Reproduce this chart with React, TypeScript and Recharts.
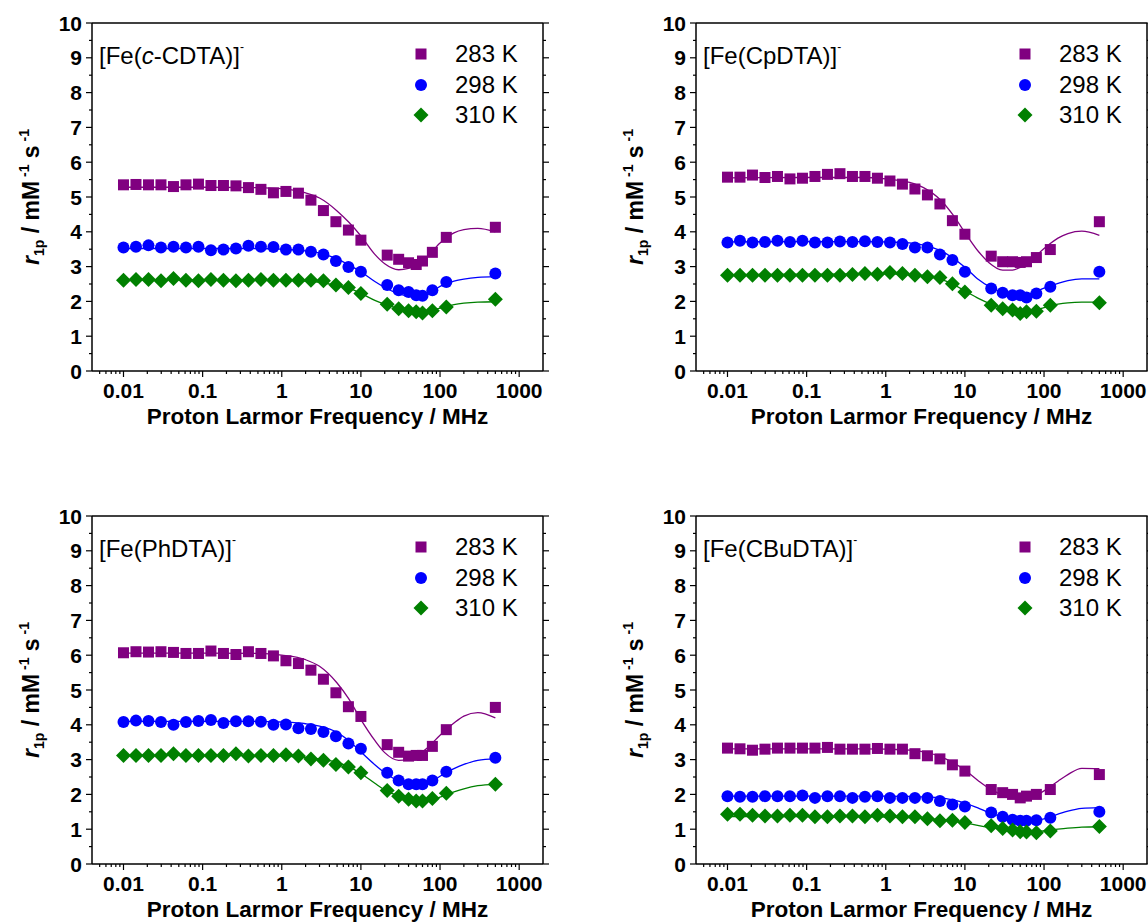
import React from "react";
import { ComposedChart, Line, Scatter, XAxis, YAxis, Legend, Label } from "recharts";

const FONT = "'Liberation Sans', Arial, sans-serif";

// field-cycling points (MHz) and high-field points
const freqLow = [
  0.01, 0.01438, 0.02069, 0.02976, 0.04281, 0.06158, 0.08859, 0.1274, 0.1833, 0.2637,
  0.3793, 0.5456, 0.7848, 1.129, 1.624, 2.336, 3.36, 4.833, 6.952, 10,
];
const freqHigh = [21.5, 30, 40, 50, 60, 80, 120, 500];
const fitFreq = [0.01, 0.1, 0.5, 1, 2, 3, 5, 7, 10, 15, 20, 30, 40, 50, 70, 100, 150, 200, 300, 500];

const xMajor = [0.01, 0.1, 1, 10, 100, 1000];
const xMinor = [
  0.005, 0.006, 0.007, 0.008, 0.009,
  0.02, 0.03, 0.04, 0.05, 0.06, 0.07, 0.08, 0.09,
  0.2, 0.3, 0.4, 0.5, 0.6, 0.7, 0.8, 0.9,
  2, 3, 4, 5, 6, 7, 8, 9,
  20, 30, 40, 50, 60, 70, 80, 90,
  200, 300, 400, 500, 600, 700, 800, 900,
];
const yTicks = [0, 0.5, 1, 1.5, 2, 2.5, 3, 3.5, 4, 4.5, 5, 5.5, 6, 6.5, 7, 7.5, 8, 8.5, 9, 9.5, 10];

const tempLabels = ["283 K", "298 K", "310 K"];
const tempColors = ["#800080", "#0000ff", "#008000"];
const markerKinds = ["square", "circle", "diamond"];

// [Fe(c-CDTA)]-
const cdta283 = [5.35, 5.36, 5.35, 5.35, 5.3, 5.35, 5.37, 5.33, 5.33, 5.32, 5.27, 5.22, 5.12, 5.16, 5.11, 4.91, 4.61, 4.29, 4.05, 3.76, 3.33, 3.21, 3.11, 3.06, 3.16, 3.41, 3.84, 4.13];
const cdta298 = [3.55, 3.57, 3.61, 3.55, 3.57, 3.55, 3.57, 3.47, 3.49, 3.52, 3.6, 3.57, 3.56, 3.49, 3.49, 3.43, 3.35, 3.16, 2.99, 2.85, 2.47, 2.32, 2.27, 2.18, 2.16, 2.32, 2.56, 2.8];
const cdta310 = [2.61, 2.63, 2.63, 2.59, 2.66, 2.61, 2.59, 2.63, 2.61, 2.59, 2.61, 2.63, 2.61, 2.61, 2.61, 2.61, 2.59, 2.47, 2.4, 2.23, 1.92, 1.79, 1.73, 1.7, 1.67, 1.73, 1.84, 2.06];
const cdtaFit283 = [5.28, 5.28, 5.27, 5.24, 5.12, 4.97, 4.6, 4.28, 3.88, 3.35, 3.08, 2.91, 2.95, 3.05, 3.3, 3.68, 3.97, 4.06, 4.1, 4.0];
const cdtaFit298 = [3.52, 3.52, 3.52, 3.5, 3.45, 3.39, 3.22, 3.05, 2.85, 2.57, 2.4, 2.22, 2.15, 2.14, 2.2, 2.43, 2.58, 2.64, 2.69, 2.71];
const cdtaFit310 = [2.62, 2.62, 2.62, 2.61, 2.58, 2.55, 2.45, 2.38, 2.23, 2.03, 1.92, 1.79, 1.72, 1.7, 1.71, 1.81, 1.91, 1.95, 1.98, 1.99];

// [Fe(CpDTA)]-
const cpdta283 = [5.57, 5.57, 5.63, 5.56, 5.59, 5.52, 5.54, 5.59, 5.65, 5.67, 5.59, 5.59, 5.54, 5.46, 5.37, 5.23, 5.06, 4.8, 4.32, 3.93, 3.3, 3.14, 3.14, 3.12, 3.14, 3.26, 3.49, 4.29];
const cpdta298 = [3.69, 3.74, 3.69, 3.71, 3.74, 3.71, 3.74, 3.69, 3.69, 3.72, 3.71, 3.73, 3.71, 3.69, 3.65, 3.55, 3.55, 3.35, 3.19, 2.85, 2.37, 2.25, 2.18, 2.18, 2.11, 2.23, 2.42, 2.85];
const cpdta310 = [2.75, 2.75, 2.75, 2.75, 2.75, 2.75, 2.75, 2.75, 2.75, 2.75, 2.77, 2.8, 2.78, 2.83, 2.8, 2.75, 2.71, 2.69, 2.51, 2.27, 1.89, 1.79, 1.75, 1.65, 1.7, 1.72, 1.89, 1.96];
const cpdtaFit283 = [5.55, 5.56, 5.56, 5.52, 5.42, 5.27, 4.9, 4.5, 3.98, 3.42, 3.12, 2.9, 2.9, 2.98, 3.2, 3.52, 3.82, 3.95, 4.02, 3.9];
const cpdtaFit298 = [3.71, 3.72, 3.72, 3.71, 3.68, 3.62, 3.45, 3.25, 2.98, 2.62, 2.43, 2.26, 2.2, 2.19, 2.24, 2.38, 2.52, 2.6, 2.65, 2.65];
const cpdtaFit310 = [2.77, 2.78, 2.79, 2.79, 2.77, 2.74, 2.63, 2.5, 2.3, 2.08, 1.95, 1.82, 1.75, 1.72, 1.74, 1.82, 1.92, 1.96, 1.98, 1.98];

// [Fe(PhDTA)]-
const phdta283 = [6.07, 6.1, 6.09, 6.1, 6.08, 6.05, 6.05, 6.12, 6.05, 6.02, 6.1, 6.05, 5.98, 5.84, 5.76, 5.57, 5.31, 4.92, 4.52, 4.24, 3.43, 3.21, 3.1, 3.12, 3.12, 3.38, 3.86, 4.5];
const phdta298 = [4.08, 4.12, 4.11, 4.08, 4.0, 4.08, 4.11, 4.14, 4.05, 4.1, 4.1, 4.09, 4.0, 4.01, 3.9, 3.88, 3.79, 3.67, 3.46, 3.31, 2.62, 2.4, 2.29, 2.29, 2.29, 2.4, 2.65, 3.05];
const phdta310 = [3.12, 3.12, 3.12, 3.12, 3.17, 3.12, 3.12, 3.12, 3.12, 3.17, 3.1, 3.12, 3.12, 3.14, 3.1, 3.02, 2.98, 2.86, 2.79, 2.62, 2.11, 1.95, 1.86, 1.81, 1.81, 1.88, 2.03, 2.29];
const phdtaFit283 = [6.06, 6.06, 6.05, 6.0, 5.87, 5.68, 5.2, 4.75, 4.15, 3.55, 3.2, 2.98, 3.0, 3.1, 3.35, 3.7, 4.05, 4.25, 4.35, 4.2];
const phdtaFit298 = [4.1, 4.1, 4.1, 4.08, 4.03, 3.96, 3.78, 3.55, 3.22, 2.85, 2.62, 2.38, 2.26, 2.24, 2.3, 2.52, 2.74, 2.86, 2.98, 3.02];
const phdtaFit310 = [3.12, 3.12, 3.12, 3.1, 3.06, 3.02, 2.92, 2.8, 2.6, 2.32, 2.13, 1.95, 1.86, 1.82, 1.82, 1.92, 2.07, 2.16, 2.25, 2.29];

// [Fe(CBuDTA)]-
const cbudta283 = [3.33, 3.31, 3.27, 3.3, 3.33, 3.33, 3.33, 3.33, 3.35, 3.3, 3.3, 3.3, 3.32, 3.3, 3.3, 3.17, 3.11, 3.02, 2.85, 2.67, 2.14, 2.05, 2.0, 1.9, 1.95, 2.0, 2.14, 2.57];
const cbudta298 = [1.95, 1.93, 1.93, 1.95, 1.95, 1.95, 1.97, 1.9, 1.95, 1.95, 1.9, 1.93, 1.95, 1.9, 1.9, 1.9, 1.9, 1.81, 1.71, 1.65, 1.48, 1.36, 1.27, 1.24, 1.24, 1.26, 1.33, 1.5];
const cbudta310 = [1.43, 1.43, 1.4, 1.38, 1.38, 1.4, 1.4, 1.36, 1.36, 1.38, 1.38, 1.36, 1.4, 1.38, 1.36, 1.36, 1.3, 1.24, 1.26, 1.19, 1.1, 1.02, 0.98, 0.93, 0.92, 0.9, 0.95, 1.08];
const cbudtaFit283 = [3.31, 3.31, 3.31, 3.3, 3.27, 3.22, 3.08, 2.92, 2.7, 2.38, 2.18, 1.98, 1.9, 1.88, 1.92, 2.1, 2.38, 2.57, 2.75, 2.74];
const cbudtaFit298 = [1.95, 1.95, 1.95, 1.95, 1.94, 1.93, 1.9, 1.84, 1.75, 1.6, 1.48, 1.35, 1.28, 1.25, 1.25, 1.3, 1.43, 1.52, 1.6, 1.62];
const cbudtaFit310 = [1.36, 1.36, 1.36, 1.35, 1.33, 1.31, 1.27, 1.23, 1.18, 1.1, 1.05, 0.99, 0.95, 0.93, 0.93, 0.95, 1.0, 1.03, 1.06, 1.07];

const freqAll = [...freqLow, ...freqHigh];
const toPoints = (xs: number[], ys: number[]) => xs.map((x, i) => ({ x, y: ys[i] }));
const xTicks = [...xMajor, ...xMinor];

function marker(kind: string, cx: number, cy: number, color: string) {
  if (kind === "square") return <rect x={cx - 5.5} y={cy - 5.5} width={11} height={11} fill={color} />;
  if (kind === "circle") return <circle cx={cx} cy={cy} r={6} fill={color} />;
  return <polygon points={`${cx},${cy - 7.5} ${cx + 7.5},${cy} ${cx},${cy + 7.5} ${cx - 7.5},${cy}`} fill={color} />;
}

const tickText = { fontFamily: FONT, fontSize: 21, fontWeight: "bold" as const, fill: "#000" };

const BottomTick = (props: any) => {
  const { x, y, payload } = props;
  const major = xMajor.includes(payload.value);
  return (
    <g>
      <line x1={x} x2={x} y1={y} y2={y + (major ? 6 : 3)} stroke="#000" strokeWidth={1.2} />
      {major && (
        <text x={x} y={y + 27} textAnchor="middle" {...tickText}>
          {String(payload.value)}
        </text>
      )}
    </g>
  );
};

const TopTick = (props: any) => {
  const { x, y, payload } = props;
  const major = xMajor.includes(payload.value);
  return <line x1={x} x2={x} y1={y} y2={y - (major ? 6 : 3)} stroke="#000" strokeWidth={1.2} />;
};

const LeftTick = (props: any) => {
  const { x, y, payload } = props;
  const major = Number.isInteger(payload.value);
  return (
    <g>
      <line x1={x - (major ? 6 : 3)} x2={x} y1={y} y2={y} stroke="#000" strokeWidth={1.2} />
      {major && (
        <text x={x - 10} y={y + 7.5} textAnchor="end" {...tickText}>
          {String(payload.value)}
        </text>
      )}
    </g>
  );
};

const RightTick = (props: any) => {
  const { x, y, payload } = props;
  const major = Number.isInteger(payload.value);
  return <line x1={x} x2={x + (major ? 6 : 3)} y1={y} y2={y} stroke="#000" strokeWidth={1.2} />;
};

const XTitle = (props: any) => {
  const vb = props.viewBox;
  return (
    <text x={vb.x + vb.width / 2} y={vb.y + 53} textAnchor="middle" fontFamily={FONT} fontSize={22.5} fontWeight="bold" fill="#000">
      Proton Larmor Frequency / MHz
    </text>
  );
};

const YTitle = (props: any) => {
  const vb = props.viewBox;
  const cy = vb.y + vb.height / 2;
  return (
    <text
      x={39}
      y={cy}
      transform={`rotate(-90 39 ${cy})`}
      textAnchor="middle"
      fontFamily={FONT}
      fontSize={23}
      fontWeight="bold"
      fill="#000"
    >
      <tspan fontStyle="italic">r</tspan>
      <tspan fontSize={14} dy={5}>1p</tspan>
      <tspan dy={-5}> / mM</tspan>
      <tspan fontSize={14} dy={-10}> -1</tspan>
      <tspan dy={10}> s</tspan>
      <tspan fontSize={14} dy={-10}> -1</tspan>
    </text>
  );
};

const LegendBox = () => (
  <div style={{ fontFamily: FONT, fontSize: 24, color: "#000" }}>
    {tempLabels.map((t, i) => (
      <div key={t} style={{ display: "flex", alignItems: "center", height: 30.5, lineHeight: "30px" }}>
        <svg width={20} height={20} style={{ display: "block" }}>
          {marker(markerKinds[i], 10, 10, tempColors[i])}
        </svg>
        <span style={{ marginLeft: 24 }}>{t}</span>
      </div>
    ))}
  </div>
);

type PanelProps = {
  left: number;
  top: number;
  title: React.ReactNode;
  points: number[][];
  fits: number[][];
};

function Panel({ left, top, title, points, fits }: PanelProps) {
  const axisLine = { stroke: "#000", strokeWidth: 1.5 };
  return (
    <div style={{ position: "absolute", left, top, width: 560, height: 429 }}>
      <ComposedChart width={560} height={429} margin={{ top: 0, right: 0, bottom: 0, left: 0 }}>
        <XAxis
          xAxisId="b"
          dataKey="x"
          type="number"
          scale="log"
          domain={[0.004, 2000]}
          allowDataOverflow
          ticks={xTicks}
          interval={0}
          tickSize={0}
          tickMargin={0}
          tickLine={false}
          tick={<BottomTick />}
          height={58}
          axisLine={axisLine}
        >
          <Label content={<XTitle />} />
        </XAxis>
        <XAxis
          xAxisId="t"
          orientation="top"
          type="number"
          scale="log"
          domain={[0.004, 2000]}
          allowDataOverflow
          ticks={xTicks}
          interval={0}
          tickSize={0}
          tickMargin={0}
          tickLine={false}
          tick={<TopTick />}
          height={23}
          axisLine={axisLine}
        />
        <YAxis
          yAxisId="l"
          type="number"
          domain={[0, 10]}
          allowDataOverflow
          ticks={yTicks}
          interval={0}
          tickSize={0}
          tickMargin={0}
          tickLine={false}
          tick={<LeftTick />}
          width={92}
          axisLine={axisLine}
        >
          <Label content={<YTitle />} />
        </YAxis>
        <YAxis
          yAxisId="r"
          orientation="right"
          type="number"
          domain={[0, 10]}
          allowDataOverflow
          ticks={yTicks}
          interval={0}
          tickSize={0}
          tickMargin={0}
          tickLine={false}
          tick={<RightTick />}
          width={17}
          axisLine={axisLine}
        />
        {fits.map((f, i) => (
          <Line
            key={`fit-${i}`}
            xAxisId="b"
            yAxisId="l"
            data={toPoints(fitFreq, f)}
            dataKey="y"
            type="monotone"
            stroke={tempColors[i]}
            strokeWidth={1.3}
            dot={false}
            activeDot={false}
            isAnimationActive={false}
          />
        ))}
        {points.map((p, i) => (
          <Scatter
            key={`pts-${i}`}
            name={tempLabels[i]}
            xAxisId="b"
            yAxisId="l"
            data={toPoints(freqAll, p)}
            dataKey="y"
            fill={tempColors[i]}
            shape={(s: any) => marker(markerKinds[i], s.cx, s.cy, tempColors[i])}
            isAnimationActive={false}
          />
        ))}
        <Legend
          layout="horizontal"
          verticalAlign="middle"
          align="center"
          wrapperStyle={{ left: 411, top: 39, width: 150, height: 92 }}
          content={() => <LegendBox />}
        />
      </ComposedChart>
      <div
        style={{
          position: "absolute",
          left: 99,
          top: 44,
          fontFamily: FONT,
          fontSize: 24,
          lineHeight: "24px",
          whiteSpace: "nowrap",
          color: "#000",
        }}
      >
        {title}
        <span style={{ fontSize: 12, position: "relative", top: -13 }}>-</span>
      </div>
    </div>
  );
}

export default function App() {
  return (
    <div
      style={{
        position: "absolute",
        left: 0,
        top: 0,
        width: 1148,
        height: 922,
        overflow: "hidden",
        background: "#fff",
      }}
    >
      <Panel
        left={0}
        top={0}
        title={<>[Fe(<i>c</i>-CDTA)]</>}
        points={[cdta283, cdta298, cdta310]}
        fits={[cdtaFit283, cdtaFit298, cdtaFit310]}
      />
      <Panel
        left={604}
        top={0}
        title={<>[Fe(CpDTA)]</>}
        points={[cpdta283, cpdta298, cpdta310]}
        fits={[cpdtaFit283, cpdtaFit298, cpdtaFit310]}
      />
      <Panel
        left={0}
        top={493}
        title={<>[Fe(PhDTA)]</>}
        points={[phdta283, phdta298, phdta310]}
        fits={[phdtaFit283, phdtaFit298, phdtaFit310]}
      />
      <Panel
        left={604}
        top={493}
        title={<>[Fe(CBuDTA)]</>}
        points={[cbudta283, cbudta298, cbudta310]}
        fits={[cbudtaFit283, cbudtaFit298, cbudtaFit310]}
      />
    </div>
  );
}
